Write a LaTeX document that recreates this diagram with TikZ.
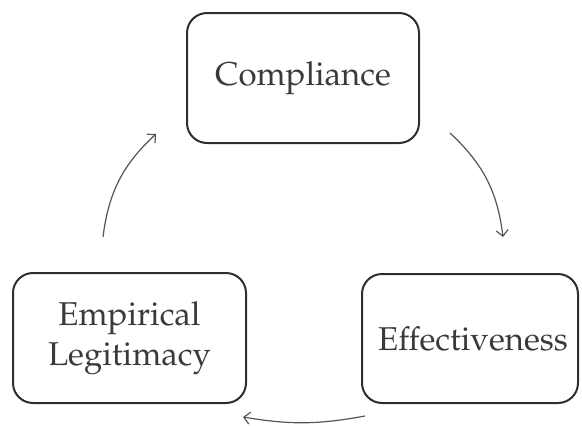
\documentclass[tikz,border=0pt]{standalone}
\usepackage[T1]{fontenc}
\usepackage{mathpazo}
\usetikzlibrary{arrows.meta}
\definecolor{boxline}{HTML}{2E2E2E}
\definecolor{txt}{HTML}{3A3A3A}
\definecolor{arr}{HTML}{555555}
\tikzset{
  stagebox/.style={draw=boxline, line width=2pt, rounded corners=20pt, text=txt,
    font=\fontsize{33}{40}\selectfont, align=center, inner sep=0pt},
  cyclearrow/.style={draw=arr, line width=1.2pt,
    -{Straight Barb[length=6pt,width=12pt,line width=1.2pt]}, bend left=20}
}
\begin{document}
\begin{tikzpicture}[x=1pt,y=-1pt]
\useasboundingbox (0,0) rectangle (582,426);
\node[stagebox, minimum width=232pt, minimum height=130pt] (comp) at (303,78) {Compliance};
\node[stagebox, minimum width=233pt, minimum height=130pt] (emp) at (129.5,338) {Empirical\\Legitimacy};
\node[stagebox, minimum width=216pt, minimum height=129pt] (eff) at (470,338.5) {\hspace*{6pt}Effectiveness};
\coordinate (l1) at (103,237);
\coordinate (l2) at (156,134);
\coordinate (r1) at (450,133);
\coordinate (r2) at (503,237);
\coordinate (b1) at (365,416);
\coordinate (b2) at (243,417);
\draw[cyclearrow] (l1) to (l2);
\draw[cyclearrow] (r1) to (r2);
\draw[cyclearrow, bend left=10] (b1) to (b2);
\end{tikzpicture}
\end{document}
